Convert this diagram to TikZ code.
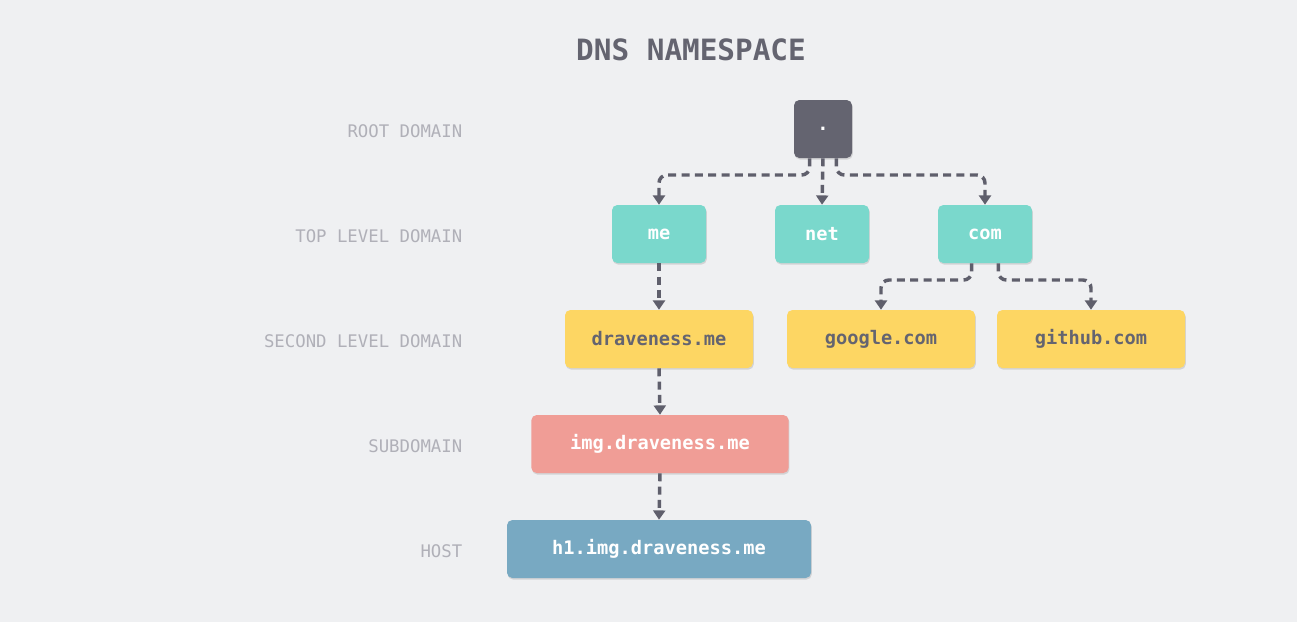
\documentclass[tikz,border=0pt]{standalone}
\usepackage{fontspec}
\setmonofont{DejaVu Sans Mono}
\usetikzlibrary{shadows,arrows.meta}
\definecolor{bgcol}{RGB}{239,240,242}
\definecolor{rootcol}{RGB}{100,100,112}
\definecolor{tldcol}{RGB}{122,216,204}
\definecolor{sldcol}{RGB}{253,214,99}
\definecolor{subcol}{RGB}{240,157,150}
\definecolor{hostcol}{RGB}{120,169,194}
\definecolor{linecol}{RGB}{95,95,108}
\definecolor{lvlcol}{RGB}{176,176,184}
\tikzset{
  box/.style={rounded corners=4pt,inner sep=0pt,minimum height=43.5pt,
    font=\ttfamily\bfseries\fontsize{14}{16}\selectfont,
    drop shadow={shadow xshift=0.6pt,shadow yshift=-1.2pt,opacity=0.25}},
  lvl/.style={anchor=east,text=lvlcol,font=\ttfamily\fontsize{13}{15}\selectfont},
  link/.style={draw=linecol,line width=2.6pt,dash pattern=on 6pt off 4pt,
    rounded corners=6pt,-{Triangle[length=7pt,width=9pt]}}
}
\begin{document}
\begin{tikzpicture}[x=0.75pt,y=0.75pt,yscale=-1,xscale=1]
\fill[bgcol] (0,0) rectangle (1297,622);
\useasboundingbox (0,0) rectangle (1297,622);
%Title
\node (title) [text=rootcol,font=\ttfamily\bfseries\fontsize{22}{26}\selectfont] at (691,50) {DNS NAMESPACE};
%Levels
\node (lroot) [lvl] at (467,131) {ROOT DOMAIN};
\node (ltld) [lvl] at (467,236) {TOP LEVEL DOMAIN};
\node (lsld) [lvl] at (467,341) {SECOND LEVEL DOMAIN};
\node (lsub) [lvl] at (467,446) {SUBDOMAIN};
\node (lhost) [lvl] at (467,551) {HOST};
%Boxes
\node (root) [box,fill=rootcol,text=white,minimum width=43.5pt] at (823,129) {.};
\node (me) [box,fill=tldcol,text=white,minimum width=70.5pt] at (659,234) {me};
\node (net) [box,fill=tldcol,text=white,minimum width=70.5pt] at (822,234) {net};
\node (com) [box,fill=tldcol,text=white,minimum width=70.5pt] at (985,234) {com};
\node (drav) [box,fill=sldcol,text=rootcol,minimum width=141pt] at (659,339) {draveness.me};
\node (google) [box,fill=sldcol,text=rootcol,minimum width=141pt] at (881,339) {google.com};
\node (github) [box,fill=sldcol,text=rootcol,minimum width=141pt] at (1091,339) {github.com};
\node (img) [box,fill=subcol,text=white,minimum width=193pt] at (660,444) {img.draveness.me};
\node (host) [box,fill=hostcol,text=white,minimum width=228pt] at (659,549) {h1.img.draveness.me};
%Links
\draw[link] ([xshift=-10]root.south) |- (740,175) -| (me.north);
\draw[link] (root.south) -- (net.north);
\draw[link] ([xshift=10]root.south) |- (900,175) -| (com.north);
\draw[link] ([xshift=-10]com.south) |- (930,280) -| (google.north);
\draw[link] ([xshift=10]com.south) |- (1040,280) -| (github.north);
\draw[link] (me.south) -- (drav.north);
\draw[link] (drav.south) -- (img.north);
\draw[link] (img.south) -- (host.north);
\end{tikzpicture}
\end{document}
